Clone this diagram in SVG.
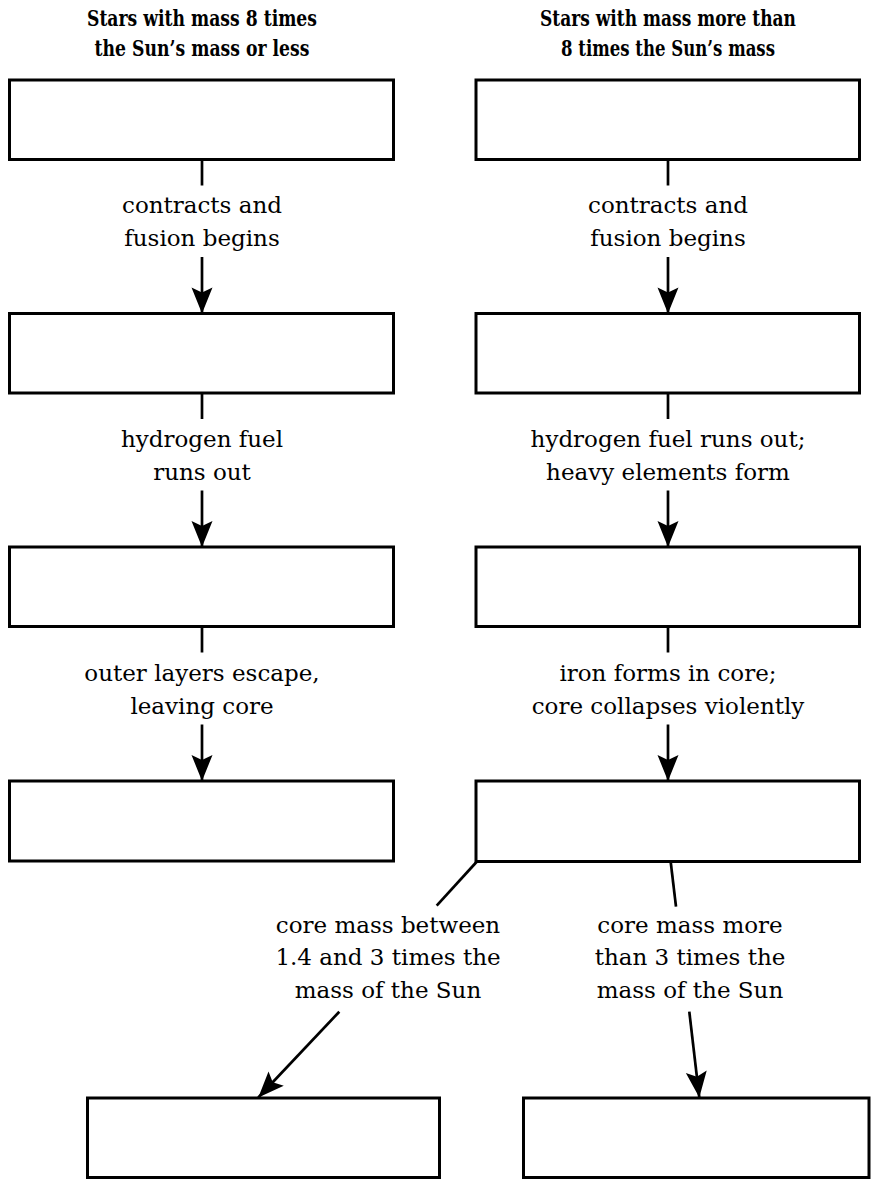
<svg xmlns="http://www.w3.org/2000/svg" width="874" height="1185" viewBox="0 0 874 1185">
  <style>
    .title { font-family: "DejaVu Serif", "Liberation Serif", serif; font-weight: bold; font-size: 23px; fill: #000; text-anchor: middle; }
    .label { font-family: "DejaVu Serif", "Liberation Serif", serif; font-size: 23px; fill: #000; text-anchor: middle; }
    .box { fill: #fff; stroke: #000; stroke-width: 3; }
    .conn { fill: none; stroke: #000; stroke-width: 2.7; }
    .arrow { marker-end: url(#head); }
  </style>
  <defs>
    <marker id="head" viewBox="-27 -12 29 24" refX="0" refY="0" markerWidth="29" markerHeight="24" markerUnits="userSpaceOnUse" orient="auto">
      <path d="M0,0 L-26,-10.5 L-21,0 L-26,10.5 Z" fill="#000"/>
    </marker>
  </defs>
  <rect width="874" height="1185" fill="#fff"/>

  <!-- column headings -->
  <g id="heading-low-mass">
    <text class="title" x="202" y="26" textLength="230" lengthAdjust="spacingAndGlyphs">Stars with mass 8 times</text>
    <text class="title" x="202" y="56" textLength="215" lengthAdjust="spacingAndGlyphs">the Sun’s mass or less</text>
  </g>
  <g id="heading-high-mass">
    <text class="title" x="668" y="26" textLength="256" lengthAdjust="spacingAndGlyphs">Stars with mass more than</text>
    <text class="title" x="668" y="56" textLength="214" lengthAdjust="spacingAndGlyphs">8 times the Sun’s mass</text>
  </g>

  <!-- left column stages -->
  <g id="low-1"><rect class="box" x="9.5" y="80" width="384" height="79.5"/></g>
  <g id="low-2"><rect class="box" x="9.5" y="313.5" width="384" height="79.5"/></g>
  <g id="low-3"><rect class="box" x="9.5" y="547" width="384" height="79.5"/></g>
  <g id="low-4"><rect class="box" x="9.5" y="781" width="384" height="80"/></g>

  <!-- right column stages -->
  <g id="high-1"><rect class="box" x="476" y="80" width="383.5" height="79.5"/></g>
  <g id="high-2"><rect class="box" x="476" y="313.5" width="383.5" height="79.5"/></g>
  <g id="high-3"><rect class="box" x="476" y="547" width="383.5" height="79.5"/></g>
  <g id="high-4"><rect class="box" x="476" y="781" width="383.5" height="80.5"/></g>

  <!-- end states -->
  <g id="end-mid"><rect class="box" x="87.5" y="1098" width="352" height="79.5"/></g>
  <g id="end-heavy"><rect class="box" x="523.5" y="1098" width="345.5" height="79.5"/></g>

  <!-- connectors with their labels -->
  <g id="connectors">
    <!-- left column -->
    <line class="conn" x1="202" y1="159.5" x2="202" y2="185.5"/>
    <line class="conn arrow" x1="202" y1="257" x2="202" y2="313.5"/>
    <text class="label" x="202" y="213">contracts and</text>
    <text class="label" x="202" y="246">fusion begins</text>

    <line class="conn" x1="202" y1="393" x2="202" y2="419"/>
    <line class="conn arrow" x1="202" y1="490.5" x2="202" y2="547"/>
    <text class="label" x="202" y="447">hydrogen fuel</text>
    <text class="label" x="202" y="480">runs out</text>

    <line class="conn" x1="202" y1="626.5" x2="202" y2="652.5"/>
    <line class="conn arrow" x1="202" y1="724.5" x2="202" y2="781"/>
    <text class="label" x="202" y="680.5">outer layers escape,</text>
    <text class="label" x="202" y="713.5">leaving core</text>

    <!-- right column -->
    <line class="conn" x1="668" y1="159.5" x2="668" y2="185.5"/>
    <line class="conn arrow" x1="668" y1="257" x2="668" y2="313.5"/>
    <text class="label" x="668" y="213">contracts and</text>
    <text class="label" x="668" y="246">fusion begins</text>

    <line class="conn" x1="668" y1="393" x2="668" y2="419"/>
    <line class="conn arrow" x1="668" y1="490.5" x2="668" y2="547"/>
    <text class="label" x="668" y="447">hydrogen fuel runs out;</text>
    <text class="label" x="668" y="480">heavy elements form</text>

    <line class="conn" x1="668" y1="626.5" x2="668" y2="652.5"/>
    <line class="conn arrow" x1="668" y1="724.5" x2="668" y2="781"/>
    <text class="label" x="668" y="680.5">iron forms in core;</text>
    <text class="label" x="668" y="713.5">core collapses violently</text>

    <!-- branch to the lighter remnant -->
    <line class="conn" x1="476.5" y1="862" x2="436.7" y2="905.7"/>
    <line class="conn arrow" x1="339.3" y1="1011.7" x2="258.3" y2="1097.5"/>
    <text class="label" x="388" y="932.5">core mass between</text>
    <text class="label" x="388" y="965">1.4 and 3 times the</text>
    <text class="label" x="388" y="997.5">mass of the Sun</text>

    <!-- branch to the heavier remnant -->
    <line class="conn" x1="670.7" y1="862" x2="676" y2="906.7"/>
    <line class="conn arrow" x1="689.3" y1="1011.7" x2="699.3" y2="1097.5"/>
    <text class="label" x="690" y="932.5">core mass more</text>
    <text class="label" x="690" y="965">than 3 times the</text>
    <text class="label" x="690" y="997.5">mass of the Sun</text>
  </g>
</svg>
